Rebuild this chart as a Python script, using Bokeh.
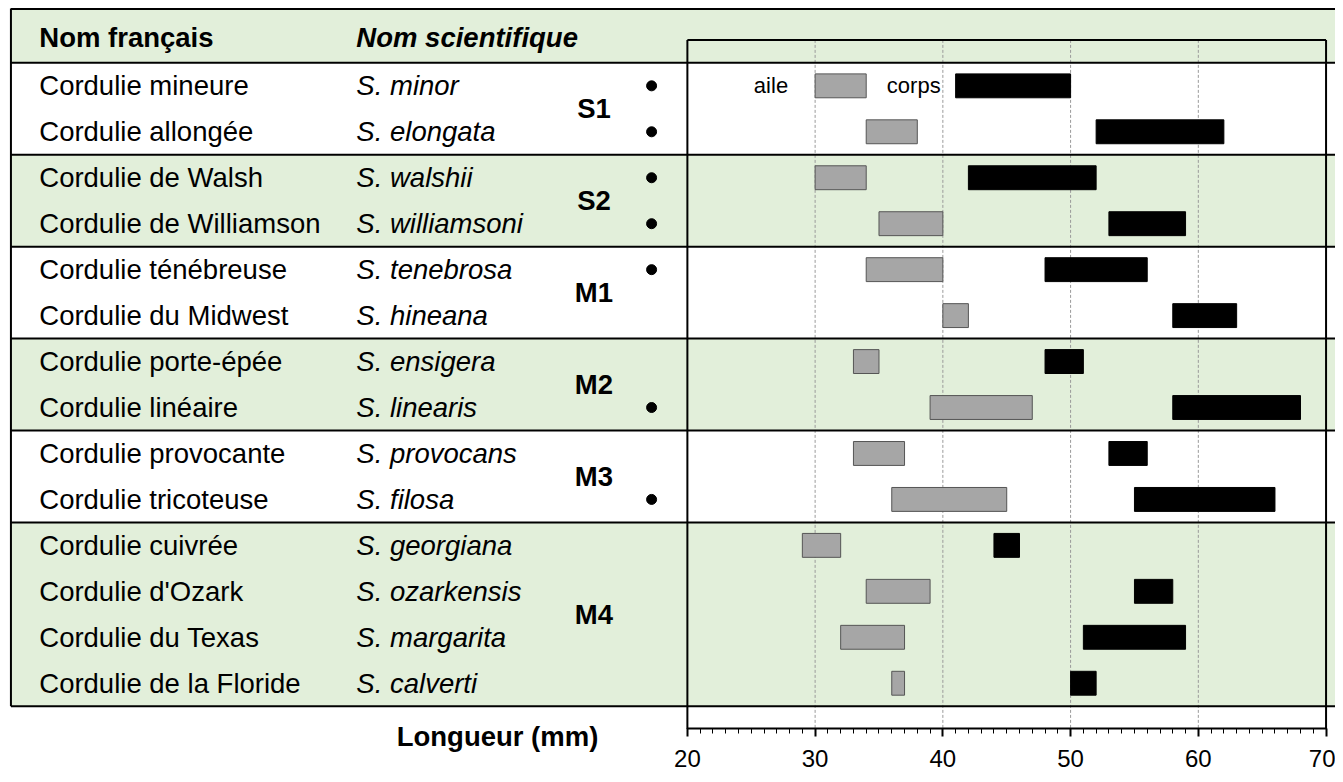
from bokeh.plotting import figure
from bokeh.models import Range1d, FixedTicker
from bokeh.core.properties import value
from bokeh.embed import file_html
from bokeh.resources import INLINE

# ---------------- data ----------------
noms_fr = ["Cordulie mineure", "Cordulie allongée", "Cordulie de Walsh", "Cordulie de Williamson",
           "Cordulie ténébreuse", "Cordulie du Midwest", "Cordulie porte-épée", "Cordulie linéaire",
           "Cordulie provocante", "Cordulie tricoteuse", "Cordulie cuivrée", "Cordulie d'Ozark",
           "Cordulie du Texas", "Cordulie de la Floride"]
noms_sci = ["S. minor", "S. elongata", "S. walshii", "S. williamsoni", "S. tenebrosa", "S. hineana",
            "S. ensigera", "S. linearis", "S. provocans", "S. filosa", "S. georgiana",
            "S. ozarkensis", "S. margarita", "S. calverti"]
groupes = ["S1", "S1", "S2", "S2", "M1", "M1", "M2", "M2", "M3", "M3", "M4", "M4", "M4", "M4"]
point = [1, 1, 1, 1, 1, 0, 0, 1, 0, 1, 0, 0, 0, 0]
aile_min = [30, 34, 30, 35, 34, 40, 33, 39, 33, 36, 29, 34, 32, 36]
aile_max = [34, 38, 34, 40, 40, 42, 35, 47, 37, 45, 32, 39, 37, 37]
corps_min = [41, 52, 42, 53, 48, 58, 48, 58, 53, 55, 44, 55, 51, 50]
corps_max = [50, 62, 52, 59, 56, 63, 51, 68, 56, 66, 46, 58, 59, 52]
ticks = [20, 30, 40, 50, 60, 70]
entetes = ["Nom français", "Nom scientifique"]
legende = ["aile", "corps"]
titre_axe = "Longueur (mm)"

# ---------------- layout helpers (reference px -> data) ----------------
W, H = 1335, 774          # figure size; the reference canvas 1343x782 is mapped onto it
RW, RH = 1343, 782
PX = 12.85                # px per mm
ROW = 46.43               # px per row
def sx(X):
    return ticks[0] + (X - 691) / PX
def sy(Y):
    return (Y - 63) / ROW

FONT = value("Liberation Sans")
GREEN = "#e2efda"
n = len(noms_fr)
yc = [i + 0.5 for i in range(n)]
AXIS_Y = sy(736)

p = figure(width=W, height=H, output_backend="svg", toolbar_location=None,
           x_range=Range1d(sx(0), sx(RW)), y_range=Range1d(sy(RH), sy(0)),
           y_axis_location=None, x_axis_location="below")
p.min_border = 0
p.min_border_left = 0
p.min_border_right = 0
p.min_border_top = 0
p.min_border_bottom = 0
p.outline_line_color = None
p.xgrid.visible = False
p.ygrid.visible = False
p.background_fill_color = "white"
p.border_fill_color = "white"

XL, XR = sx(10.5), sx(1500)

# group blocks
blocks = []
start = 0
for i in range(1, n + 1):
    if i == n or groupes[i] != groupes[start]:
        blocks.append((groupes[start], start, i))
        start = i

# green bands
p.quad(left=XL, right=XR, top=sy(8), bottom=0, fill_color=GREEN, line_color=None)
for k, (g, a, b) in enumerate(blocks):
    if k % 2 == 1:
        p.quad(left=XL, right=XR, top=a, bottom=b, fill_color=GREEN, line_color=None)

# grid lines
gx = ticks[1:-1]
p.segment(x0=gx, x1=gx, y0=[-0.5] * len(gx), y1=[AXIS_Y] * len(gx),
          line_color="#9a9a9a", line_width=1, line_dash="3 2")

# table lines
hl = [sy(8.5), 0] + [b for (_, _, b) in blocks]
p.segment(x0=[XL] * len(hl), x1=[XR] * len(hl), y0=hl, y1=hl, line_color="black", line_width=2)
p.segment(x0=[XL], x1=[XL], y0=[sy(8)], y1=[n], line_color="black", line_width=2)

# plot box
p.segment(x0=[ticks[0], ticks[-1], ticks[0]], x1=[ticks[0], ticks[-1], ticks[-1]],
          y0=[-0.5, -0.5, -0.5], y1=[AXIS_Y, AXIS_Y, -0.5], line_color="black", line_width=2)

# bars
hb = 0.26
p.quad(left=aile_min, right=aile_max, top=[y - hb for y in yc], bottom=[y + hb for y in yc],
       fill_color="#a6a6a6", line_color="#555555", line_width=1)
p.quad(left=corps_min, right=corps_max, top=[y - hb for y in yc], bottom=[y + hb for y in yc],
       fill_color="black", line_color="black", line_width=1)

# legend texts
p.text(x=[aile_min[0]], y=[yc[0]], text=[legende[0]], text_align="right", text_baseline="middle",
       x_offset=-27, text_font=FONT, text_font_size="22px", text_color="black")
p.text(x=[corps_min[0]], y=[yc[0]], text=[legende[1]], text_align="right", text_baseline="middle",
       x_offset=-15, text_font=FONT, text_font_size="22px", text_color="black")

# table texts
FS = "27.5px"
p.text(x=[sx(39)], y=[sy(37)], text=[entetes[0]], text_baseline="middle", text_font=FONT,
       text_font_size=FS, text_font_style="bold", text_color="black")
p.text(x=[sx(358)], y=[sy(37)], text=[entetes[1]], text_baseline="middle", text_font=FONT,
       text_font_size=FS, text_font_style="bold italic", text_color="black")
p.text(x=[sx(39)] * n, y=yc, text=noms_fr, text_baseline="middle", text_font=FONT,
       text_font_size=FS, text_color="black")
p.text(x=[sx(358)] * n, y=yc, text=noms_sci, text_baseline="middle", text_font=FONT,
       text_font_size=FS, text_font_style="italic", text_color="black")
p.text(x=[sx(597)] * len(blocks), y=[(a + b) / 2 for (_, a, b) in blocks],
       text=[g for (g, _, _) in blocks], text_align="center", text_baseline="middle",
       text_font=FONT, text_font_size=FS, text_font_style="bold", text_color="black")

# dots
dy = [y for y, f in zip(yc, point) if f]
p.scatter(x=[sx(655)] * len(dy), y=dy, size=10, color="black")

# axis title
p.text(x=[sx(500)], y=[sy(744)], text=[titre_axe], text_align="center", text_baseline="middle",
       text_font=FONT, text_font_size=FS, text_font_style="bold", text_color="black")

# x axis, drawn at a fixed location inside the frame
ax = p.xaxis[0]
ax.fixed_location = AXIS_Y
ax.ticker = FixedTicker(ticks=ticks, minor_ticks=list(range(ticks[0], ticks[-1] + 1)))
ax.bounds = (ticks[0], ticks[-1])
ax.axis_line_width = 2
ax.axis_line_color = "black"
ax.major_tick_in = 0
ax.major_tick_out = 8
ax.major_tick_line_width = 2
ax.minor_tick_in = 0
ax.minor_tick_out = 5
ax.minor_tick_line_width = 1
ax.major_label_text_font = "Liberation Sans"
ax.major_label_text_font_size = "24px"
ax.major_label_text_color = "black"
ax.major_label_standoff = 13

open("out.html", "w").write(file_html(p, INLINE))
